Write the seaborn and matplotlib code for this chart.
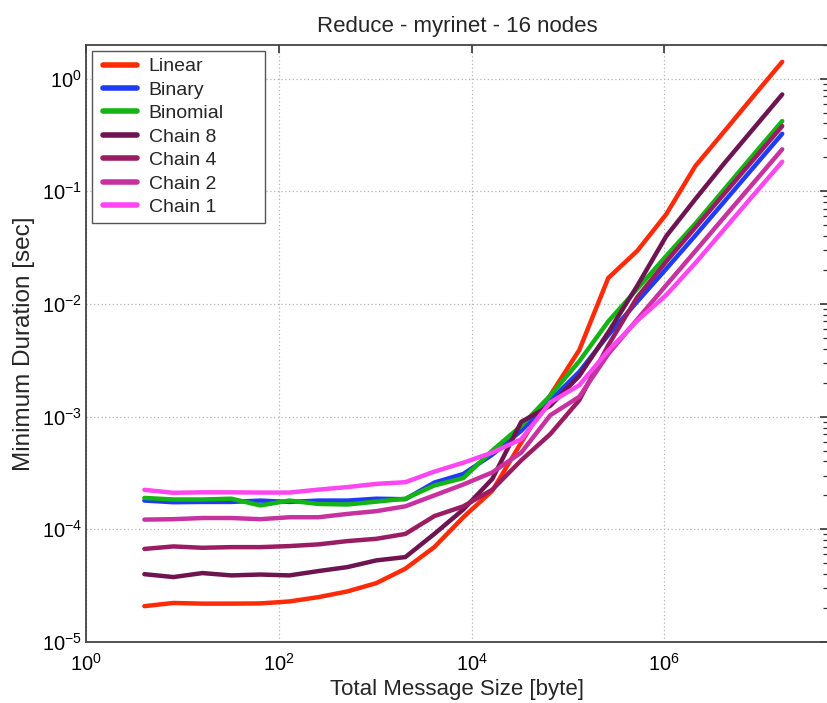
import numpy as np
import pandas as pd
import matplotlib
matplotlib.use("Agg")
import matplotlib.pyplot as plt
import matplotlib.ticker as mticker
import seaborn as sns

# ---- data ----
msg_size = [4 * 2 ** k for k in range(23)]

linear = [2.08e-5, 2.22e-5, 2.19e-5, 2.19e-5, 2.2e-5, 2.29e-5, 2.5e-5, 2.81e-5,
          3.33e-5, 4.47e-5, 6.95e-5, 1.28e-4, 2.2e-4, 5.9e-4, 1.55e-3, 3.9e-3,
          1.7e-2, 2.96e-2, 6.26e-2, 1.67e-1, 3.4e-1, 6.95e-1, 1.41]
binary = [1.8e-4, 1.74e-4, 1.75e-4, 1.75e-4, 1.8e-4, 1.75e-4, 1.8e-4, 1.8e-4,
          1.87e-4, 1.85e-4, 2.6e-4, 3.1e-4, 4.6e-4, 7.5e-4, 1.39e-3, 2.5e-3,
          5.3e-3, 1.05e-2, 2.05e-2, 4.04e-2, 8.1e-2, 1.62e-1, 3.24e-1]
binomial = [1.9e-4, 1.84e-4, 1.84e-4, 1.87e-4, 1.63e-4, 1.8e-4, 1.68e-4, 1.66e-4,
            1.76e-4, 1.87e-4, 2.45e-4, 2.85e-4, 5.0e-4, 8.3e-4, 1.54e-3, 3.1e-3,
            7.0e-3, 1.36e-2, 2.67e-2, 5.15e-2, 1.04e-1, 2.1e-1, 4.2e-1]
chain8 = [4.0e-5, 3.77e-5, 4.09e-5, 3.9e-5, 3.97e-5, 3.9e-5, 4.26e-5, 4.62e-5,
          5.3e-5, 5.67e-5, 9.1e-5, 1.5e-4, 2.8e-4, 9.0e-4, 1.25e-3, 2.3e-3,
          5.6e-3, 1.45e-2, 4.0e-2, 8.5e-2, 1.77e-1, 3.58e-1, 7.24e-1]
chain4 = [6.7e-5, 7.05e-5, 6.86e-5, 6.95e-5, 6.95e-5, 7.1e-5, 7.35e-5, 7.86e-5,
          8.24e-5, 9.1e-5, 1.31e-4, 1.6e-4, 2.25e-4, 4.1e-4, 7.0e-4, 1.4e-3,
          4.3e-3, 1.15e-2, 2.38e-2, 4.76e-2, 9.5e-2, 1.9e-1, 3.79e-1]
chain2 = [1.22e-4, 1.23e-4, 1.26e-4, 1.26e-4, 1.23e-4, 1.28e-4, 1.28e-4, 1.37e-4,
          1.45e-4, 1.6e-4, 2.0e-4, 2.5e-4, 3.2e-4, 4.8e-4, 1.03e-3, 1.5e-3,
          3.6e-3, 7.3e-3, 1.47e-2, 2.94e-2, 5.9e-2, 1.18e-1, 2.36e-1]
chain1 = [2.24e-4, 2.11e-4, 2.13e-4, 2.13e-4, 2.12e-4, 2.12e-4, 2.25e-4, 2.37e-4,
          2.53e-4, 2.62e-4, 3.25e-4, 3.9e-4, 4.8e-4, 6.3e-4, 1.34e-3, 1.9e-3,
          3.85e-3, 7.1e-3, 1.2e-2, 2.3e-2, 4.6e-2, 9.2e-2, 1.83e-1]

series_names = ["Linear", "Binary", "Binomial", "Chain 8", "Chain 4", "Chain 2", "Chain 1"]
series_values = [linear, binary, binomial, chain8, chain4, chain2, chain1]
colors = ["#FF2A08", "#1E3CF5", "#14B414", "#6E1450", "#9A1C62", "#C832A0", "#FF46F0"]

x_tick_values = [1e0, 1e2, 1e4, 1e6, 1e8]
y_tick_values = [1e-5, 1e-4, 1e-3, 1e-2, 1e-1, 1e0]

rows = []
for name, vals in zip(series_names, series_values):
    for xv, yv in zip(msg_size, vals):
        rows.append({"size": xv, "duration": yv, "series": name})
df = pd.DataFrame(rows)

# ---- style ----
sns.set_theme(style="white")
plt.rcParams["font.family"] = ["Liberation Sans", "DejaVu Sans"]
plt.rcParams["mathtext.default"] = "regular"

W, H = 827, 703
fig = plt.figure(figsize=(W / 100, H / 100), dpi=100)
left_px, right_px, top_px, bottom_px = 86.4, 828.0, 44.7, 642.0
ax = fig.add_axes([left_px / W, 1 - bottom_px / H,
                   (right_px - left_px) / W, (bottom_px - top_px) / H])

palette = dict(zip(series_names, colors))
sns.lineplot(data=df, x="size", y="duration", hue="series", hue_order=series_names,
             palette=palette, linewidth=3.2, estimator=None, sort=False, ax=ax,
             legend=True)

ax.set_xscale("log")
ax.set_yscale("log")
ax.set_xlim(1, 10 ** 7.70)
ax.set_ylim(1e-5, 2.0)

fmt = mticker.FuncFormatter(lambda v, p: r"$\mathdefault{10^{%d}}$" % int(round(np.log10(v))))
ax.xaxis.set_major_locator(mticker.FixedLocator(x_tick_values))
ax.xaxis.set_minor_locator(mticker.NullLocator())
ax.xaxis.set_major_formatter(fmt)
ax.yaxis.set_major_locator(mticker.FixedLocator(y_tick_values))
ax.yaxis.set_minor_locator(mticker.LogLocator(base=10, subs=np.arange(2, 10)))
ax.yaxis.set_major_formatter(fmt)
ax.yaxis.set_minor_formatter(mticker.NullFormatter())

ax.tick_params(which="both", direction="in", top=True, right=True,
               colors="#333333", labelcolor="black")
ax.tick_params(which="major", length=6, width=1.2, labelsize=14.5)
ax.tick_params(axis="y", which="major", pad=3)
ax.tick_params(axis="x", which="major", pad=8)
ax.tick_params(which="minor", length=3.5, width=0.9)

ax.grid(True, which="major", linestyle=(0, (1, 2)), color="#b5b5b5", linewidth=0.9)
for sp in ax.spines.values():
    sp.set_color("#444444")
    sp.set_linewidth(1.3)

ax.set_title("Reduce - myrinet - 16 nodes", fontsize=16, pad=9)
ax.set_xlabel("Total Message Size [byte]", fontsize=16, labelpad=3)
ax.set_ylabel("Minimum Duration [sec]", fontsize=17.5, labelpad=5)

# legend
handles, labels = ax.get_legend_handles_labels()
axw = right_px - left_px
axh = bottom_px - top_px
lx0 = (92 - left_px) / axw
ly1 = (bottom_px - 51) / axh
lw_ = (265 - 92) / axw
lh_ = (219 - 51) / axh
leg = ax.legend(handles, labels, loc="upper left",
                bbox_to_anchor=(lx0, ly1 - lh_, lw_, lh_), mode="expand",
                borderaxespad=0, fontsize=14, handlelength=1.96, handletextpad=0.6,
                labelspacing=0.30, borderpad=0.35, fancybox=False, framealpha=1,
                edgecolor="#555555")
leg.get_frame().set_linewidth(1.0)
for lh in leg.get_lines():
    lh.set_linewidth(4)
    xd = np.asarray(lh.get_xdata(), dtype=float)
    if xd.size >= 2:
        xd = xd.copy()
        xd[0] = xd[0] + 3.0
        lh.set_xdata(xd)

fig.savefig("out.png", dpi=100)
